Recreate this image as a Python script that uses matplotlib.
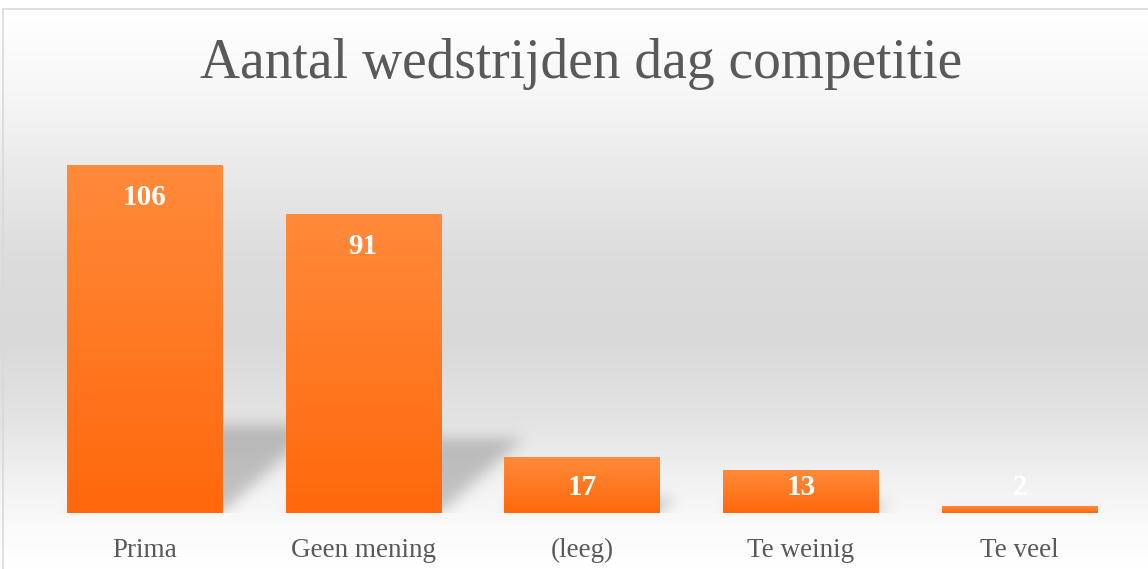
import numpy as np
import matplotlib
matplotlib.use("Agg")
import matplotlib.pyplot as plt
from matplotlib.colors import LinearSegmentedColormap
from matplotlib.patches import Rectangle

# ── data ───────────────────────────────────────────────────────────────────────
categories = ["Prima", "Geen mening", "(leeg)", "Te weinig", "Te veel"]
counts = [106, 91, 17, 13, 2]
title = "Aantal wedstrijden dag competitie"

W, H, DPI = 1148, 569, 100
TXT = "#595959"
FONT = "Liberation Serif"
BAR_TOP, BAR_BOT = "#ff8a3a", "#ff680c"

fig = plt.figure(figsize=(W / DPI, H / DPI), dpi=DPI, facecolor="white")

# ── background: soft grey band inside a thin frame ────────────────────────────
bg = fig.add_axes([0, 0, 1, 1], zorder=0)
bg.set_axis_off()
stops = [(0.0, "#ffffff"), (9 / H, "#ffffff"), (100 / H, "#f6f6f6"),
         (160 / H, "#ebebeb"), (260 / H, "#dcdcdc"), (340 / H, "#d9d9d9"),
         (420 / H, "#e3e3e3"), (480 / H, "#f1f1f1"), (530 / H, "#fbfbfb"),
         (1.0, "#ffffff")]
bg_cmap = LinearSegmentedColormap.from_list("bg", stops)
bg.imshow(np.linspace(0, 1, H)[:, None], cmap=bg_cmap, aspect="auto",
          extent=(0, 1, 0, 1), interpolation="bilinear")
bg.add_patch(Rectangle((3 / W, -0.05), 1.2, 1 - 9 / H + 0.05, transform=bg.transAxes,
                       fill=False, edgecolor="#d9d9d9", lw=1.2))
bg.set_xlim(0, 1); bg.set_ylim(0, 1)

# ── main axes ──────────────────────────────────────────────────────────────────
ax = fig.add_axes([35 / W, 1 - 513 / H, (1129 - 35) / W, (513 - 119) / H], zorder=1)
ax.patch.set_alpha(0)
x = np.arange(len(categories))
YTOP = 120
bw = 0.71

# blurred perspective shadows behind the bars
nx, ny = 1100, 400
gx = np.linspace(-0.5, len(categories) - 0.5, nx)
gy = np.linspace(0, YTOP, ny)
X, Y = np.meshgrid(gx, gy)
mask = np.zeros_like(X)
for xi, v in zip(x, counts):
    hs = 0.25 * v
    s = 0.0165 * Y
    inside = (Y <= hs) & (X >= xi - bw / 2 + s) & (X <= xi + bw / 2 + s)
    mask[inside] = 1.0

k = np.exp(-0.5 * (np.arange(-21, 22) / 7.0) ** 2)
k /= k.sum()
blur = np.apply_along_axis(lambda r: np.convolve(r, k, mode="same"), 1, mask)
blur = np.apply_along_axis(lambda c: np.convolve(c, k, mode="same"), 0, blur)
shadow = np.zeros((ny, nx, 4))
shadow[..., :3] = 0.3
shadow[..., 3] = blur * 0.3
ax.imshow(shadow, extent=(-0.5, len(categories) - 0.5, 0, YTOP), origin="lower",
          aspect="auto", zorder=1, interpolation="bilinear")

# bars with vertical orange gradient
bars = ax.bar(x, counts, width=bw, color=BAR_BOT, linewidth=0, zorder=2)
bar_cmap = LinearSegmentedColormap.from_list("bar", [BAR_BOT, BAR_TOP])
for b in bars:
    x0, y0, w, h = b.get_x(), b.get_y(), b.get_width(), b.get_height()
    im = ax.imshow(np.linspace(0, 1, 64)[:, None], cmap=bar_cmap,
                   extent=(x0, x0 + w, y0, y0 + h), origin="lower",
                   aspect="auto", zorder=3, interpolation="bilinear")
    im.set_clip_path(b)

for xi, v in zip(x, counts):
    ax.text(xi, max(v - 9.8, 7.7), str(v), ha="center", va="center",
            color="white", fontsize=21, fontweight="bold", family=FONT, zorder=4)

ax.set_xlim(-0.5, len(categories) - 0.5)
ax.set_ylim(0, YTOP)
ax.set_xticks(x, categories)
ax.set_yticks([])
ax.tick_params(axis="x", length=0, pad=18, labelsize=19.5, labelcolor=TXT)
for lbl in ax.get_xticklabels():
    lbl.set_family(FONT)
for sp in ax.spines.values():
    sp.set_visible(False)

fig.text(581.5 / W, 1 - 78 / H, title, ha="center", va="baseline",
         fontsize=40, color=TXT, family=FONT)

fig.savefig("out.png", dpi=DPI)
